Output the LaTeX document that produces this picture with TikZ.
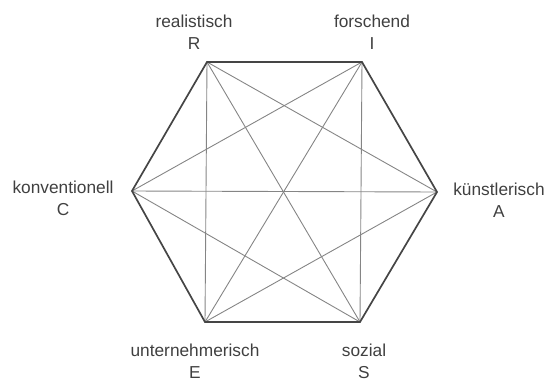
\documentclass[tikz,border=0pt]{standalone}
\usepackage{fontspec}
\setmainfont{Liberation Sans}
\usepackage{xcolor}
\usepackage{tikz}
\usetikzlibrary{positioning}

\definecolor{hexgray}{HTML}{454545}
\definecolor{diaggray}{HTML}{858585}
\definecolor{txtgray}{HTML}{404040}

\begin{document}
\begin{tikzpicture}[
  x=1pt, y=-1pt,
  lbl/.style={align=center, text=txtgray, font=\fontsize{17.3}{22}\selectfont, inner sep=0pt},
  edge/.style={draw=hexgray, line width=1.7pt, line join=miter},
  diag/.style={draw=diaggray, line width=0.9pt}
]
  \useasboundingbox (0,0) rectangle (548,383);
  % corners of the hexagon
  \coordinate (R) at (207,62);
  \coordinate (I) at (362,62);
  \coordinate (A) at (437,192);
  \coordinate (S) at (360,322);
  \coordinate (E) at (205,322);
  \coordinate (C) at (132,191);
  % labels
  \node[lbl] (lR) at (194,32) {realistisch\\R};
  \node[lbl] (lI) at (372,32) {forschend\\I};
  \node[lbl] (lA) at (499,200) {künstlerisch\\A};
  \node[lbl] (lS) at (364,361) {sozial\\S};
  \node[lbl] (lE) at (195,361) {unternehmerisch\\E};
  \node[lbl] (lC) at (63,198) {konventionell\\C};
  % diagonals
  \foreach \a/\b in {R/A, R/S, R/E, I/S, I/E, I/C, A/E, A/C, S/C}
    \draw[diag] (\a) -- (\b);
  % outline
  \draw[edge] (R) -- (I) -- (A) -- (S) -- (E) -- (C) -- cycle;
\end{tikzpicture}
\end{document}
